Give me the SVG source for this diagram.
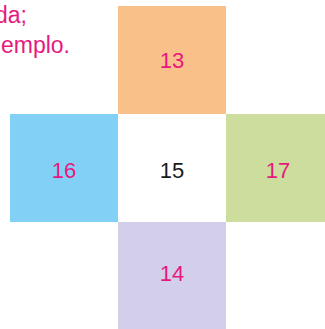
<svg xmlns="http://www.w3.org/2000/svg" width="325" height="329" viewBox="0 0 325 329">
<style>
.lbl{font-family:"Liberation Sans",Arial,sans-serif;font-size:22px;text-anchor:middle;fill:#e6197f}
.cap{font-family:"Liberation Sans",Arial,sans-serif;font-size:23px;text-anchor:end;fill:#e6197f}
</style>
<rect width="325" height="329" fill="#ffffff"/>
<g id="caption">
<text class="cap" x="27" y="23">da;</text>
<text class="cap" x="70" y="53">emplo.</text>
</g>
<g id="connectors"></g>
<g id="n13"><rect x="118" y="6" width="108" height="108" fill="#f9c08a"/><text class="lbl" x="172" y="68">13</text></g>
<g id="n16"><rect x="10" y="114" width="108" height="108" fill="#82d0f5"/><text class="lbl" x="64" y="178">16</text></g>
<g id="n15"><rect x="118" y="114" width="108" height="108" fill="#ffffff"/><text class="lbl" x="172" y="178" style="fill:#1a1a1a">15</text></g>
<g id="n17"><rect x="226" y="114" width="108" height="108" fill="#cddd9d"/><text class="lbl" x="278" y="178">17</text></g>
<g id="n14"><rect x="118" y="222" width="108" height="108" fill="#d3cfea"/><text class="lbl" x="172" y="281">14</text></g>
</svg>
